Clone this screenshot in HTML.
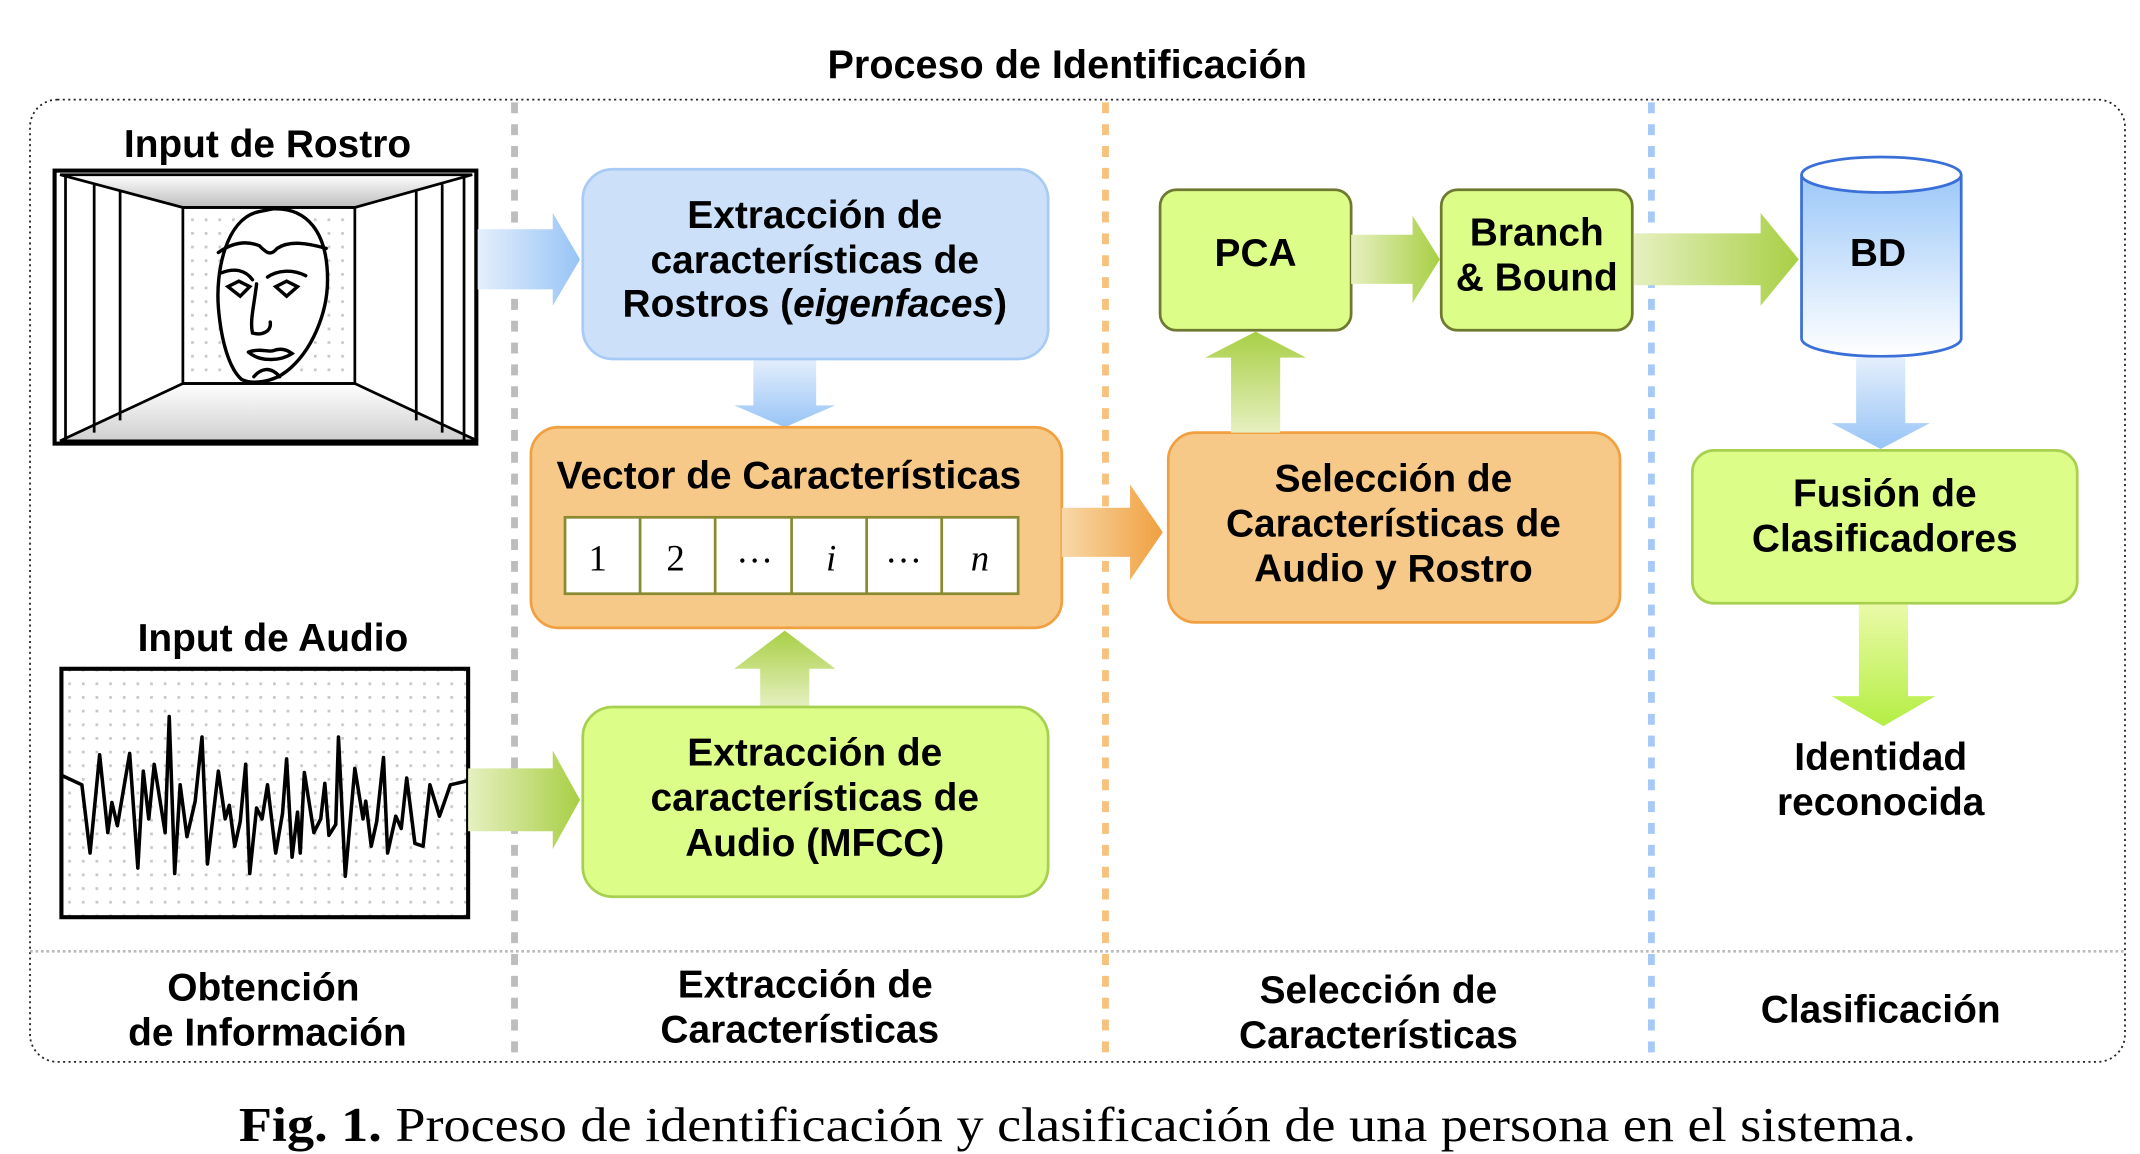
<!DOCTYPE html>
<html><head><meta charset="utf-8"><style>
html,body{margin:0;padding:0;background:#fff;}
svg{display:block;}
text{font-family:"Liberation Sans",Arial,sans-serif;font-weight:bold;fill:#000;}
</style></head><body>
<svg width="2140" height="1154" viewBox="0 0 1568 845.5" preserveAspectRatio="none" xmlns="http://www.w3.org/2000/svg">
<defs>
<linearGradient id="gb" x1="0" x2="1" y1="0" y2="0"><stop offset="0" stop-color="#e4effc"/><stop offset="1" stop-color="#98c4f6"/></linearGradient>
<linearGradient id="gbv" x1="0" x2="0" y1="0" y2="1"><stop offset="0" stop-color="#e4effc"/><stop offset="1" stop-color="#98c4f6"/></linearGradient>
<linearGradient id="gg" x1="0" x2="1" y1="0" y2="0"><stop offset="0" stop-color="#e6f0c0"/><stop offset="1" stop-color="#a8cf45"/></linearGradient>
<linearGradient id="ggu" x1="0" x2="0" y1="1" y2="0"><stop offset="0" stop-color="#e6f0c0"/><stop offset="1" stop-color="#a8cf45"/></linearGradient>
<linearGradient id="ggd" x1="0" x2="0" y1="0" y2="1"><stop offset="0" stop-color="#eafaa8"/><stop offset="1" stop-color="#b4ee44"/></linearGradient>
<linearGradient id="go" x1="0" x2="1" y1="0" y2="0"><stop offset="0" stop-color="#f8d8a8"/><stop offset="1" stop-color="#f0a040"/></linearGradient>
<linearGradient id="gcyl" x1="0" x2="0" y1="0" y2="1"><stop offset="0" stop-color="#9cc8f8"/><stop offset="1" stop-color="#ffffff"/></linearGradient>
<linearGradient id="gtop" x1="0" x2="0" y1="0" y2="1"><stop offset="0" stop-color="#ffffff"/><stop offset="1" stop-color="#bdbdbd"/></linearGradient>
<linearGradient id="gbot" x1="0" x2="0" y1="0" y2="1"><stop offset="0" stop-color="#ffffff"/><stop offset="1" stop-color="#cfcfcf"/></linearGradient>
<pattern id="grid" width="10" height="10" patternUnits="userSpaceOnUse"><rect x="0" y="0" width="2" height="2" fill="#c8c8c8"/></pattern>
</defs>

<text x="782" y="57" text-anchor="middle" font-size="29">Proceso de Identificación</text>

<rect x="22" y="73" width="1535" height="705" rx="20" fill="none" stroke="#222" stroke-width="1.3" stroke-dasharray="1.5 2.5"/>
<line x1="22" y1="697" x2="1557" y2="697" stroke="#bbb" stroke-width="2" stroke-dasharray="2 2"/>
<line x1="377" y1="75" x2="377" y2="776" stroke="#bdbdbd" stroke-width="5" stroke-dasharray="8 8"/>
<line x1="810" y1="75" x2="810" y2="776" stroke="#f6c27e" stroke-width="5" stroke-dasharray="8 8"/>
<line x1="1210" y1="75" x2="1210" y2="776" stroke="#a6c9f5" stroke-width="5" stroke-dasharray="8 8"/>

<g font-size="28.5" text-anchor="middle">
<text x="193" y="733">Obtención</text><text x="196" y="766">de Información</text>
<text x="590" y="731">Extracción de</text><text x="586" y="764">Características</text>
<text x="1010" y="735">Selección de</text><text x="1010" y="768">Características</text>
<text x="1378" y="749">Clasificación</text>
<text x="196" y="115">Input de Rostro</text>
<text x="200" y="477">Input de Audio</text>
</g>

<rect x="134" y="152" width="126" height="129" fill="url(#grid)"/>
<polygon points="44,128 346,128 260,152 134,152" fill="url(#gtop)" stroke="#000" stroke-width="2"/>
<polygon points="134,281 260,281 350,323 44,323" fill="url(#gbot)" stroke="#000" stroke-width="2"/>
<rect x="40" y="125" width="309" height="200" fill="none" stroke="#000" stroke-width="3"/>
<rect x="134" y="152" width="126" height="129" fill="none" stroke="#000" stroke-width="2"/>
<g stroke="#000" stroke-width="2">
<line x1="48" y1="128" x2="48" y2="323"/><line x1="69" y1="135" x2="69" y2="317"/><line x1="88" y1="140" x2="88" y2="308"/>
<line x1="305" y1="140" x2="305" y2="308"/><line x1="324" y1="135" x2="324" y2="317"/><line x1="340" y1="128" x2="340" y2="323"/>
</g>
<g fill="none" stroke="#000" stroke-width="2.5" stroke-linecap="round">
<path d="M190,155 C165,160 158,200 160,225 C162,250 168,270 177,278 C185,282 200,280 210,272 C228,258 240,230 240,205 C240,170 225,152 200,153 Z" fill="#fff"/>
<path d="M160,185 C170,178 180,176 190,180 C195,185 198,188 203,182 C212,176 225,178 239,182"/>
<path d="M162,200 C172,196 180,198 185,205 M196,203 C203,198 214,197 224,202"/>
<path d="M167,210 L175,206 L183,210 L176,217 Z M202,210 L210,206 L218,210 L210,217 Z"/>
<path d="M188,208 C186,225 183,235 185,244 C192,246 199,243 198,236"/>
<path d="M182,258 C190,255 196,258 200,257 C205,255 210,256 214,259 C205,265 190,265 182,258"/>
<path d="M186,276 C191,270 198,268 205,276"/>
</g>

<rect x="45" y="490" width="298" height="182" fill="url(#grid)"/>
<rect x="45" y="490" width="298" height="182" fill="none" stroke="#000" stroke-width="3"/>
<polyline fill="none" stroke="#000" stroke-width="2.6" stroke-linejoin="round" points="45,568 60,575 66,625 73,553 79,610 82,588 86,605 95,552 101,636 105,565 109,600 113,560 121,610 124,525 128,640 132,575 137,613 143,587 148,540 152,633 160,565 165,600 168,590 172,620 176,602 180,560 183,640 188,592 192,600 196,575 202,625 207,596 210,556 214,628 218,595 220,625 223,566 230,610 235,600 238,574 241,612 246,604 248,540 253,642 260,563 266,600 268,587 272,620 276,602 281,555 284,625 290,598 294,607 298,570 304,618 310,620 315,575 322,598 330,575 343,572"/>

<polygon points="350,168 405,168 405,156 425,190 405,224 405,212 350,212" fill="url(#gb)"/>
<polygon points="343,563 405,563 405,550 425,586 405,622 405,609 343,609" fill="url(#gg)"/>
<polygon points="552,263 598,263 598,297 612,297 575,313 538,297 552,297" fill="url(#gbv)"/>
<polygon points="557,518 593,518 593,490 612,490 575,462 538,490 557,490" fill="url(#ggu)"/>

<rect x="427" y="124" width="341" height="139" rx="22" fill="#cce1f9" stroke="#a8cbf5" stroke-width="2"/>
<g font-size="28.5" text-anchor="middle">
<text x="597" y="167">Extracción de</text>
<text x="597" y="200">características de</text>
<text x="597" y="232">Rostros (<tspan font-style="italic">eigenfaces</tspan>)</text>
</g>

<rect x="389" y="313" width="389" height="147" rx="20" fill="#f6c988" stroke="#f0a040" stroke-width="2"/>
<text x="578" y="358" font-size="28.5" text-anchor="middle">Vector de Características</text>
<rect x="414" y="379" width="332" height="56" fill="#fff" stroke="#8a8a30" stroke-width="2"/>
<g stroke="#8a8a30" stroke-width="2">
<line x1="469" y1="379" x2="469" y2="435"/><line x1="524" y1="379" x2="524" y2="435"/><line x1="580" y1="379" x2="580" y2="435"/><line x1="635" y1="379" x2="635" y2="435"/><line x1="690" y1="379" x2="690" y2="435"/>
</g>
<g font-size="27" text-anchor="middle">
<text x="438" y="418" style="font-family:'Liberation Serif',serif;font-weight:normal">1</text>
<text x="495" y="418" style="font-family:'Liberation Serif',serif;font-weight:normal">2</text>
<text x="553" y="412" style="font-family:'Liberation Serif',serif;font-weight:normal">…</text>
<text x="609" y="418" style="font-family:'Liberation Serif',serif;font-weight:normal;font-style:italic">i</text>
<text x="662" y="412" style="font-family:'Liberation Serif',serif;font-weight:normal">…</text>
<text x="718" y="418" style="font-family:'Liberation Serif',serif;font-weight:normal;font-style:italic">n</text>
</g>

<rect x="427" y="518" width="341" height="139" rx="22" fill="#dcfd88" stroke="#a8d050" stroke-width="2"/>
<g font-size="28.5" text-anchor="middle">
<text x="597" y="561">Extracción de</text>
<text x="597" y="594">características de</text>
<text x="597" y="627">Audio (MFCC)</text>
</g>

<polygon points="778,372 828,372 828,355 852,390 828,425 828,408 778,408" fill="url(#go)"/>

<rect x="856" y="317" width="331" height="139" rx="20" fill="#f6c988" stroke="#f0a040" stroke-width="2"/>
<g font-size="28.5" text-anchor="middle">
<text x="1021" y="360">Selección de</text>
<text x="1021" y="393">Características de</text>
<text x="1021" y="426">Audio y Rostro</text>
</g>

<polygon points="902,317 938,317 938,262 957,262 920,243 883,262 902,262" fill="url(#ggu)"/>

<rect x="850" y="139" width="140" height="103" rx="12" fill="#dcfd88" stroke="#6f7a30" stroke-width="2"/>
<text x="920" y="195" font-size="28.5" text-anchor="middle">PCA</text>
<polygon points="990,172 1035,172 1035,158 1055,190 1035,222 1035,208 990,208" fill="url(#gg)"/>
<rect x="1056" y="139" width="140" height="103" rx="12" fill="#dcfd88" stroke="#6f7a30" stroke-width="2"/>
<g font-size="28.5" text-anchor="middle">
<text x="1126" y="180">Branch</text>
<text x="1126" y="213">&amp; Bound</text>
</g>
<polygon points="1197,171 1290,171 1290,156 1318,190 1290,224 1290,209 1197,209" fill="url(#gg)"/>

<path d="M1320,128 L1320,248 A58,13 0 0 0 1437,248 L1437,128" fill="url(#gcyl)" stroke="#3a6fd8" stroke-width="2"/>
<ellipse cx="1378.5" cy="128" rx="58.5" ry="13" fill="#fff" stroke="#3a6fd8" stroke-width="2"/>
<text x="1376" y="195" font-size="28.5" text-anchor="middle">BD</text>

<polygon points="1360,262 1396,262 1396,310 1414,310 1378,329 1342,310 1360,310" fill="url(#gbv)"/>

<rect x="1240" y="330" width="282" height="112" rx="16" fill="#dcfd88" stroke="#a8d050" stroke-width="2"/>
<g font-size="28.5" text-anchor="middle">
<text x="1381" y="371">Fusión de</text>
<text x="1381" y="404">Clasificadores</text>
</g>
<polygon points="1362,443 1398,443 1398,510 1418,510 1380,532 1342,510 1362,510" fill="url(#ggd)"/>
<g font-size="28.5" text-anchor="middle">
<text x="1378" y="564">Identidad</text>
<text x="1378" y="597">reconocida</text>
</g>

<text x="175" y="836" font-size="36" textLength="1229" lengthAdjust="spacingAndGlyphs" style="font-family:'Liberation Serif',serif;font-weight:normal"><tspan style="font-weight:bold">Fig. 1.</tspan> Proceso de identificación y clasificación de una persona en el sistema.</text>
</svg>
</body></html>
